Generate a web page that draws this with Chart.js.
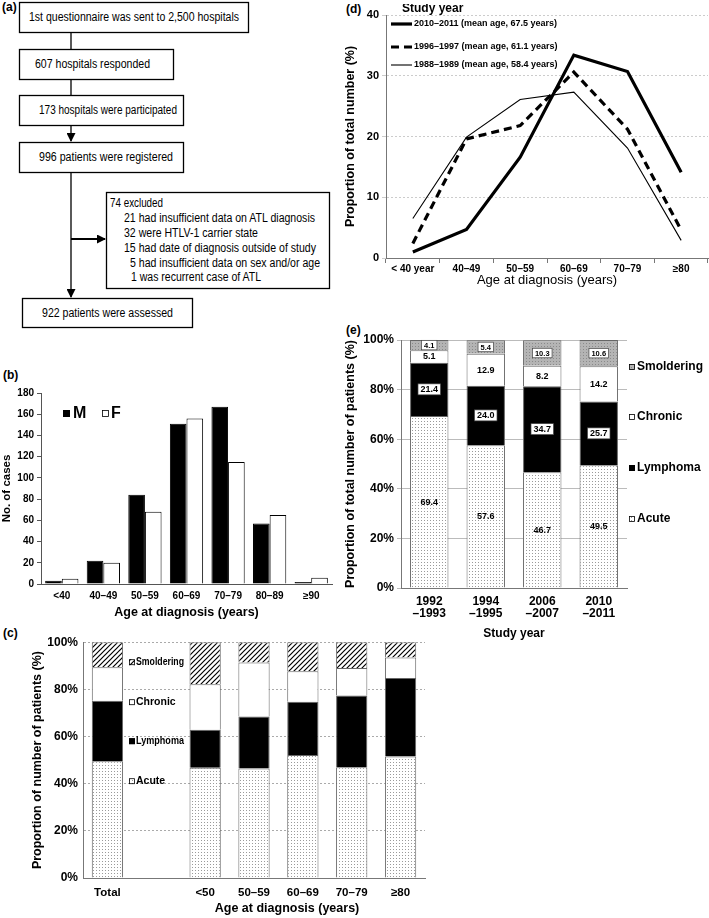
<!DOCTYPE html>
<html>
<head>
<meta charset="utf-8">
<script src="https://cdn.jsdelivr.net/npm/chart.js@4.4.0/dist/chart.umd.min.js"></script>
<style>
body{margin:0;background:#fff;}
#wrap{position:relative;width:709px;height:918px;overflow:hidden;font-family:'Liberation Sans',Arial,sans-serif;}
canvas{position:absolute;}
.tag{position:absolute;font-weight:bold;font-size:12px;color:#000;}
</style>
</head>
<body>
<div id="wrap">
<svg width="345" height="332" style="position:absolute;left:0;top:0" font-family="'Liberation Sans',Arial,sans-serif" font-size="12">
  <defs>
    <marker id="ah" markerUnits="userSpaceOnUse" markerWidth="9" markerHeight="9" refX="8" refY="4.5" orient="auto">
      <path d="M0,0 L9,4.5 L0,9 z" fill="#000"/>
    </marker>
  </defs>
  <g fill="none" stroke="#000" stroke-width="1.3">
    <rect x="19.5" y="2.5" width="229" height="30"/>
    <rect x="19.5" y="49.5" width="154" height="30"/>
    <rect x="19.5" y="95.5" width="164" height="30"/>
    <rect x="19.5" y="142.5" width="164" height="30"/>
    <rect x="106.5" y="192.5" width="223" height="96"/>
    <rect x="22.5" y="298.5" width="170" height="29"/>
    <line x1="71" y1="33" x2="71" y2="49"/>
    <line x1="71" y1="80" x2="71" y2="95"/>
    <line x1="71" y1="126" x2="71" y2="141" marker-end="url(#ah)"/>
    <line x1="71" y1="173" x2="71" y2="297" marker-end="url(#ah)"/>
    <line x1="71" y1="239" x2="105" y2="239" stroke-width="2" marker-end="url(#ah)"/>
  </g>
  <g fill="#000">
    <text x="29" y="21" textLength="210" lengthAdjust="spacingAndGlyphs">1st questionnaire was sent to 2,500 hospitals</text>
    <text x="35" y="68" textLength="115" lengthAdjust="spacingAndGlyphs">607 hospitals responded</text>
    <text x="39" y="114" textLength="138" lengthAdjust="spacingAndGlyphs">173 hospitals were participated</text>
    <text x="39" y="161" textLength="134" lengthAdjust="spacingAndGlyphs">996 patients were registered</text>
    <text x="110" y="207" textLength="53" lengthAdjust="spacingAndGlyphs">74 excluded</text>
    <text x="124" y="222" textLength="191" lengthAdjust="spacingAndGlyphs">21 had insufficient data on ATL diagnosis</text>
    <text x="124" y="237" textLength="134" lengthAdjust="spacingAndGlyphs">32 were HTLV-1 carrier state</text>
    <text x="124" y="252" textLength="192" lengthAdjust="spacingAndGlyphs">15 had date of diagnosis outside of study</text>
    <text x="130" y="267" textLength="190" lengthAdjust="spacingAndGlyphs">5 had insufficient data on sex and/or age</text>
    <text x="131" y="281" textLength="130" lengthAdjust="spacingAndGlyphs">1 was recurrent case of ATL</text>
    <text x="42" y="317" textLength="131" lengthAdjust="spacingAndGlyphs">922 patients were assessed</text>
  </g>
</svg>
<span class="tag" style="left:2px;top:0px">(a)</span>
<span class="tag" style="left:3px;top:368px">(b)</span>
<span class="tag" style="left:3px;top:626px">(c)</span>
<span class="tag" style="left:346px;top:2px">(d)</span>
<span class="tag" style="left:346px;top:323px">(e)</span>

<canvas id="chartB" width="340" height="236" style="left:0;top:384px"></canvas>
<canvas id="chartC" width="400" height="288" style="left:30px;top:630px"></canvas>
<canvas id="chartD" width="366" height="284" style="left:343px;top:4px"></canvas>
<canvas id="chartE" width="366" height="316" style="left:343px;top:325px"></canvas>
</div>

<script>
'use strict';
Chart.defaults.font.family = "'Liberation Sans', Arial, sans-serif";
Chart.defaults.color = '#000';

// (b) cases by age and sex
let ageB = ['<40', '40–49', '50–59', '60–69', '70–79', '80–89', '≥90'];
let maleB = [3, 22, 84, 151, 167, 57, 2];
let femaleB = [5, 20, 68, 156, 115, 65, 6];

// (c) subtype by age
let ageC = ['Total', '', '<50', '50–59', '60–69', '70–79', '≥80'];
let acuteC = [49.5, null, 46.8, 46.4, 52.2, 47.0, 51.5];
let lymphC = [25.7, null, 16.1, 22.1, 22.5, 30.4, 33.3];
let chronicC = [14.2, null, 19.3, 22.9, 13.0, 11.7, 8.7];
let smolC = [10.6, null, 17.8, 8.6, 12.3, 10.9, 6.5];

// (d) age distribution by study year
let ageD = ['< 40 year', '40–49', '50–59', '60–69', '70–79', '≥80'];
let y2010 = [1.0, 4.7, 16.6, 33.4, 30.7, 14.1];
let y1996 = [2.4, 19.6, 21.8, 30.6, 21.2, 4.6];
let y1988 = [6.5, 19.9, 26.1, 27.3, 18.1, 2.9];

// (e) subtype by study year
let yearsE = [['1992', '–1993'], ['1994', '–1995'], ['2006', '–2007'], ['2010', '–2011']];
let acuteE = [69.4, 57.6, 46.7, 49.5];
let lymphE = [21.4, 24.0, 34.7, 25.7];
let chronicE = [5.1, 12.9, 8.2, 14.2];
let smolE = [4.1, 5.4, 10.3, 10.6];

function dotPattern(bg, dot){
    let c = document.createElement('canvas');
    c.width = 3; c.height = 3;
    let x = c.getContext('2d');
    x.fillStyle = bg; x.fillRect(0, 0, 3, 3);
    x.fillStyle = dot; x.fillRect(0, 0, 1, 1);
    return x.createPattern(c, 'repeat');
}
function hatchPattern(){
    let c = document.createElement('canvas');
    c.width = 5; c.height = 5;
    let x = c.getContext('2d');
    x.fillStyle = '#fff'; x.fillRect(0, 0, 5, 5);
    x.strokeStyle = '#000'; x.lineWidth = 1.2;
    x.beginPath();
    x.moveTo(-1, 6); x.lineTo(6, -1);
    x.moveTo(-1, 1); x.lineTo(1, -1);
    x.moveTo(4, 6); x.lineTo(6, 4);
    x.stroke();
    return x.createPattern(c, 'repeat');
}
let acuteFill = dotPattern('#fff', '#9a9a9a');
let smolFillE = dotPattern('#b4b4b4', '#8a8a8a');
let hatchFill = hatchPattern();

function square(ctx, x, y, s, fill){
    ctx.fillStyle = fill;
    ctx.fillRect(x, y, s, s);
    ctx.strokeStyle = '#000';
    ctx.lineWidth = 0.8;
    ctx.strokeRect(x + 0.5, y + 0.5, s - 1, s - 1);
}

// ---------- (b)
let legendB = {
    id: 'legendB',
    afterDraw(chart){
        let ctx = chart.ctx, a = chart.chartArea;
        ctx.save();
        ctx.font = 'bold 16px Liberation Sans';
        ctx.textBaseline = 'middle';
        square(ctx, a.left + 22, a.top + 17, 7, '#000');
        ctx.fillStyle = '#000';
        ctx.fillText('M', a.left + 32, a.top + 21);
        square(ctx, a.left + 61, a.top + 17, 7, '#fff');
        ctx.fillStyle = '#000';
        ctx.fillText('F', a.left + 70, a.top + 21);
        ctx.restore();
    }
};
new Chart(document.getElementById('chartB'), {
    type: 'bar',
    data: {
        labels: ageB,
        datasets: [
            {label: 'M', data: maleB, backgroundColor: '#000', borderColor: '#000', borderWidth: 1},
            {label: 'F', data: femaleB, backgroundColor: '#fff', borderColor: '#000', borderWidth: 1}
        ]
    },
    options: {
        responsive: false, animation: false,
        layout: {padding: {top: 8, right: 8}},
        datasets: {bar: {categoryPercentage: 0.8, barPercentage: 1}},
        plugins: {legend: {display: false}, tooltip: {enabled: false}},
        scales: {
            x: {
                grid: {display: false, drawTicks: false},
                border: {color: '#555'},
                ticks: {font: {size: 10, weight: 'bold'}, padding: 6},
                title: {display: true, text: 'Age at diagnosis (years)', font: {size: 12.5, weight: 'bold'}, padding: 0},
                afterFit: s => { s.height = 36; }
            },
            y: {
                min: 0, max: 180,
                grid: {drawOnChartArea: false, tickLength: 4, color: '#555'},
                border: {color: '#555'},
                ticks: {stepSize: 20, font: {size: 10, weight: 'bold'}, padding: 3},
                title: {display: true, text: 'No. of cases', font: {size: 11.5, weight: 'bold'}, padding: 0},
                afterFit: s => { s.width = 41; }
            }
        }
    },
    plugins: [legendB]
});

// ---------- (c)
let legendC = {
    id: 'legendC',
    afterDraw(chart){
        let ctx = chart.ctx, a = chart.chartArea;
        let items = [['Smoldering', hatchFill, 20], ['Chronic', '#fff', 60], ['Lymphoma', '#000', 99], ['Acute', acuteFill, 139]];
        ctx.save();
        ctx.font = 'bold 10.5px Liberation Sans';
        ctx.textBaseline = 'middle';
        items.forEach(it => {
            square(ctx, a.left + 46, a.top + it[2] - 3, 6, it[1]);
            ctx.fillStyle = '#000';
            ctx.fillText(it[0], a.left + 53, a.top + it[2], 48);
        });
        ctx.font = 'bold 12.5px Liberation Sans';
        ctx.textAlign = 'center';
        ctx.fillText('Age at diagnosis (years)', a.left + 204, a.bottom + 31);
        ctx.restore();
    }
};
new Chart(document.getElementById('chartC'), {
    type: 'bar',
    data: {
        labels: ageC,
        datasets: [
            {label: 'Acute', data: acuteC, backgroundColor: acuteFill},
            {label: 'Lymphoma', data: lymphC, backgroundColor: '#000'},
            {label: 'Chronic', data: chronicC, backgroundColor: '#fff'},
            {label: 'Smoldering', data: smolC, backgroundColor: hatchFill}
        ]
    },
    options: {
        responsive: false, animation: false,
        layout: {padding: {top: 6, right: 5}},
        datasets: {bar: {categoryPercentage: 1, barPercentage: 0.64, borderWidth: 1, borderColor: '#666'}},
        plugins: {legend: {display: false}, tooltip: {enabled: false}},
        scales: {
            x: {
                stacked: true,
                grid: {display: false, drawTicks: false},
                border: {color: '#777'},
                ticks: {font: {size: 11.5, weight: 'bold'}, padding: 8},
                afterFit: s => { s.height = 40; }
            },
            y: {
                stacked: true, min: 0, max: 100,
                grid: {color: '#aaa', drawTicks: false},
                border: {color: '#777', dash: [2, 2]},
                ticks: {stepSize: 20, callback: v => v + '%', font: {size: 12, weight: 'bold'}, padding: 5},
                title: {display: true, text: 'Proportion of number of patients (%)', font: {size: 12.5, weight: 'bold'}, padding: 0},
                afterFit: s => { s.width = 53; }
            }
        }
    },
    plugins: [legendC]
});

// ---------- (d)
let legendD = {
    id: 'legendD',
    afterDraw(chart){
        let ctx = chart.ctx, a = chart.chartArea;
        ctx.save();
        ctx.textBaseline = 'middle';
        ctx.fillStyle = '#000';
        ctx.font = 'bold 12px Liberation Sans';
        ctx.fillText('Study year', a.left + 16, a.top - 6);
        ctx.font = 'bold 9px Liberation Sans';
        chart.data.datasets.forEach((ds, i) => {
            let y = a.top + [9, 32, 50][i];
            ctx.strokeStyle = '#000';
            ctx.lineWidth = ds.borderWidth;
            ctx.setLineDash(ds.borderDash || []);
            ctx.beginPath();
            ctx.moveTo(a.left + 5, y);
            ctx.lineTo(a.left + 26, y);
            ctx.stroke();
            ctx.setLineDash([]);
            ctx.fillText(ds.label, a.left + 28, y);
        });
        ctx.restore();
    }
};
new Chart(document.getElementById('chartD'), {
    type: 'line',
    data: {
        labels: ageD,
        datasets: [
            {label: '2010–2011 (mean age, 67.5 years)', data: y2010, borderColor: '#000', borderWidth: 3.2},
            {label: '1996–1997 (mean age, 61.1 years)', data: y1996, borderColor: '#000', borderWidth: 3.2, borderDash: [8, 5]},
            {label: '1988–1989 (mean age, 58.4 years)', data: y1988, borderColor: '#000', borderWidth: 1.1}
        ]
    },
    options: {
        responsive: false, animation: false,
        layout: {padding: {top: 11, right: 1}},
        elements: {point: {radius: 0}, line: {tension: 0, fill: false}},
        plugins: {legend: {display: false}, tooltip: {enabled: false}},
        scales: {
            x: {
                offset: true,
                grid: {offset: true, drawOnChartArea: false, tickLength: 5, color: '#777'},
                border: {color: '#777'},
                ticks: {font: {size: 10, weight: 'bold'}, padding: 0},
                title: {display: true, text: 'Age at diagnosis (years)', font: {size: 13}, padding: 0},
                afterFit: s => { s.height = 30; }
            },
            y: {
                min: 0, max: 40,
                grid: {color: '#ccc', tickLength: 4},
                border: {color: '#777', dash: [2, 2]},
                ticks: {stepSize: 10, font: {size: 11, weight: 'bold'}, padding: 3},
                title: {display: true, text: 'Proportion of total number (%)', font: {size: 12.5, weight: 'bold'}, padding: 0},
                afterFit: s => { s.width = 43; }
            }
        }
    },
    plugins: [legendD]
});

// ---------- (e)
let labelsE = {
    id: 'labelsE',
    afterDatasetsDraw(chart){
        let ctx = chart.ctx;
        ctx.save();
        ctx.textAlign = 'center';
        ctx.textBaseline = 'middle';
        chart.data.datasets.forEach((ds, i) => {
            chart.getDatasetMeta(i).data.forEach((bar, j) => {
                let t = ds.data[j].toFixed(1);
                let x = bar.x, y = (bar.y + bar.base) / 2;
                let fs = ds.label === 'Smoldering' ? 7.5 : 9;
                ctx.font = 'bold ' + fs + 'px Liberation Sans';
                if (ds.label === 'Lymphoma' || ds.label === 'Smoldering'){
                    let w = ctx.measureText(t).width + 5;
                    let h = fs + 2;
                    ctx.fillStyle = '#fff';
                    ctx.fillRect(x - w / 2, y - h / 2, w, h);
                    ctx.strokeStyle = '#444';
                    ctx.lineWidth = 0.7;
                    ctx.strokeRect(x - w / 2, y - h / 2, w, h);
                }
                ctx.fillStyle = '#000';
                ctx.fillText(t, x, y + 0.5);
            });
        });
        ctx.restore();
    },
    afterDraw(chart){
        let ctx = chart.ctx, a = chart.chartArea;
        let items = [['Smoldering', smolFillE, 27], ['Chronic', '#fff', 77], ['Lymphoma', '#000', 128], ['Acute', acuteFill, 179]];
        ctx.save();
        ctx.font = 'bold 12px Liberation Sans';
        ctx.textBaseline = 'middle';
        items.forEach(it => {
            square(ctx, a.right + 2, a.top + it[2] - 3, 6, it[1]);
            ctx.fillStyle = '#000';
            ctx.fillText(it[0], a.right + 10, a.top + it[2]);
        });
        ctx.restore();
    }
};
new Chart(document.getElementById('chartE'), {
    type: 'bar',
    data: {
        labels: yearsE,
        datasets: [
            {label: 'Acute', data: acuteE, backgroundColor: acuteFill},
            {label: 'Lymphoma', data: lymphE, backgroundColor: '#000'},
            {label: 'Chronic', data: chronicE, backgroundColor: '#fff'},
            {label: 'Smoldering', data: smolE, backgroundColor: smolFillE}
        ]
    },
    options: {
        responsive: false, animation: false,
        layout: {padding: {top: 15, right: 82}},
        datasets: {bar: {categoryPercentage: 1, barPercentage: 0.68, borderWidth: 1, borderColor: '#666'}},
        plugins: {legend: {display: false}, tooltip: {enabled: false}},
        scales: {
            x: {
                stacked: true,
                grid: {display: false, drawTicks: false},
                border: {color: '#777'},
                ticks: {font: {size: 12, weight: 'bold', lineHeight: 1}, padding: 8},
                title: {display: true, text: 'Study year', font: {size: 12, weight: 'bold'}, padding: 0},
                afterFit: s => { s.height = 53; }
            },
            y: {
                stacked: true, min: 0, max: 100,
                grid: {color: '#bbb', tickLength: 4},
                border: {color: '#777'},
                ticks: {stepSize: 20, callback: v => v + '%', font: {size: 12, weight: 'bold'}, padding: 3},
                title: {display: true, text: 'Proportion of total number of patients (%)', font: {size: 12.5, weight: 'bold'}, padding: 0},
                afterFit: s => { s.width = 58; }
            }
        }
    },
    plugins: [labelsE]
});
</script>
</body>
</html>
